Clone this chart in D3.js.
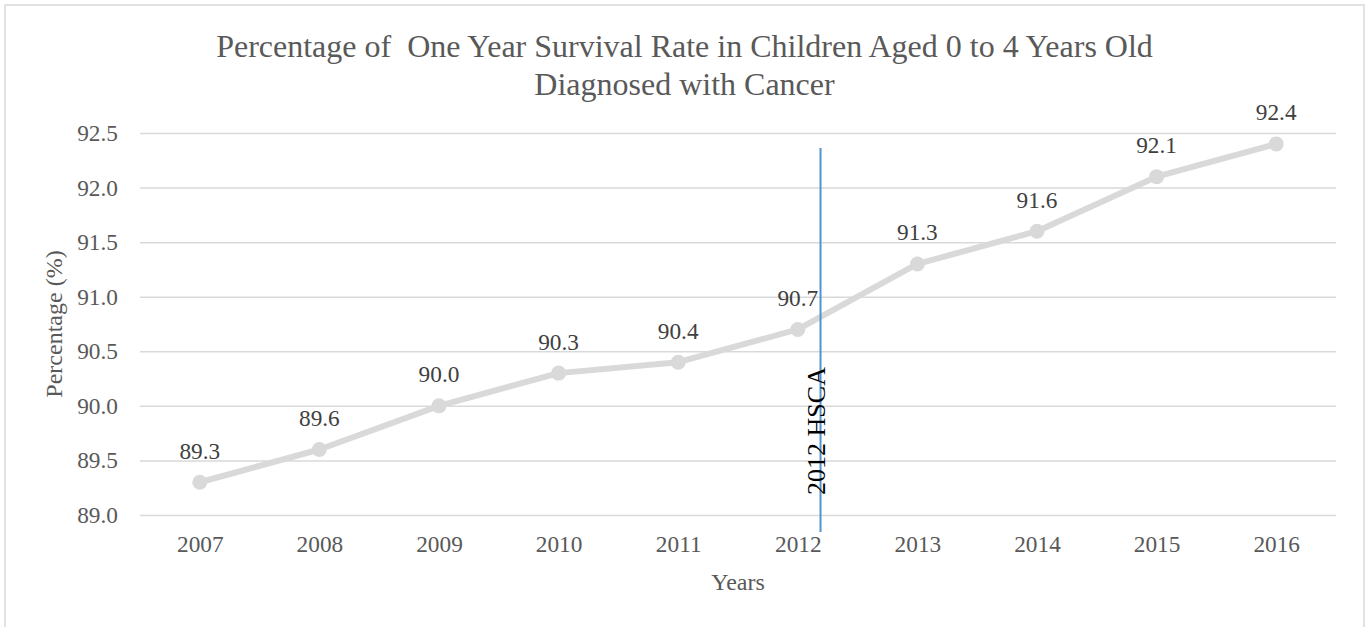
<!DOCTYPE html>
<html>
<head>
<meta charset="utf-8">
<script src="https://cdn.jsdelivr.net/npm/d3@7"></script>
<style>
  html, body { margin: 0; padding: 0; background: #ffffff; }
  svg { display: block; }
  text { font-family: "Liberation Serif", "Times New Roman", serif; }
  .title { white-space: pre; }
</style>
</head>
<body>
<svg id="chart" width="1369" height="627"></svg>
<script>
// Survival data, one value per diagnosis year
const years = [2007, 2008, 2009, 2010, 2011, 2012, 2013, 2014, 2015, 2016];
const rates = [89.3, 89.6, 90.0, 90.3, 90.4, 90.7, 91.3, 91.6, 92.1, 92.4];
const yTicks = [89.0, 89.5, 90.0, 90.5, 91.0, 91.5, 92.0, 92.5];
const titleLines = [
  "Percentage of  One Year Survival Rate in Children Aged 0 to 4 Years Old",
  "Diagnosed with Cancer"
];
// Policy marker placed just after the 2012 category
const markerYear = [2012.19];
const markerLabel = ["2012 HSCA"];

const W = 1369, H = 627;
const plot = { left: 140, right: 1336, top: 133, bottom: 515 };

const svg = d3.select("#chart");

// chart area frame
svg.append("rect")
  .attr("x", 5).attr("y", 5)
  .attr("width", 1359).attr("height", 640)
  .attr("fill", "#ffffff")
  .attr("stroke", "#d9d9d9")
  .attr("stroke-width", 1.5);

const x = d3.scaleLinear()
  .domain([years[0] - 0.5, years[years.length - 1] + 0.5])
  .range([plot.left, plot.right]);

const y = d3.scaleLinear()
  .domain([yTicks[0], yTicks[yTicks.length - 1]])
  .range([plot.bottom, plot.top]);

// title
svg.append("g").selectAll("text")
  .data(titleLines)
  .join("text")
  .attr("class", "title")
  .attr("x", 684.5)
  .attr("y", (d, i) => 56.5 + i * 38.5)
  .attr("text-anchor", "middle")
  .attr("fill", "#595959")
  .attr("font-size", "32px")
  .text(d => d);

// y axis with gridlines
const yAxis = svg.append("g")
  .attr("transform", `translate(${plot.left},0)`)
  .call(d3.axisLeft(y)
    .tickValues(yTicks)
    .tickFormat(d3.format(".1f"))
    .tickSize(-(plot.right - plot.left))
    .tickPadding(22));
yAxis.select(".domain").remove();
yAxis.selectAll(".tick line")
  .attr("stroke", "#d9d9d9")
  .attr("stroke-width", 1.5);
yAxis.selectAll(".tick text")
  .attr("fill", "#595959")
  .attr("font-size", "23.3px");

// x axis labels
const xAxis = svg.append("g")
  .attr("transform", `translate(0,${plot.bottom})`)
  .call(d3.axisBottom(x)
    .tickValues(years)
    .tickFormat(d3.format("d"))
    .tickSize(0)
    .tickPadding(20));
xAxis.select(".domain").remove();
xAxis.selectAll(".tick text")
  .attr("fill", "#595959")
  .attr("font-size", "23.3px");

// axis titles
svg.append("text")
  .attr("x", (plot.left + plot.right) / 2)
  .attr("y", 590)
  .attr("text-anchor", "middle")
  .attr("fill", "#595959")
  .attr("font-size", "24px")
  .text("Years");

svg.append("text")
  .attr("transform", `translate(62,${(plot.top + plot.bottom) / 2}) rotate(-90)`)
  .attr("text-anchor", "middle")
  .attr("fill", "#595959")
  .attr("font-size", "24px")
  .text("Percentage (%)");

// survival line and points
const pts = years.map((yr, i) => ({ yr, v: rates[i] }));

svg.append("path")
  .datum(pts)
  .attr("fill", "none")
  .attr("stroke", "#d9d9d9")
  .attr("stroke-width", 6)
  .attr("stroke-linejoin", "round")
  .attr("stroke-linecap", "round")
  .attr("d", d3.line().x(d => x(d.yr)).y(d => y(d.v)));

svg.append("g").selectAll("circle")
  .data(pts)
  .join("circle")
  .attr("cx", d => x(d.yr))
  .attr("cy", d => y(d.v))
  .attr("r", 7.5)
  .attr("fill", "#d9d9d9");

// value labels
svg.append("g").selectAll("text")
  .data(pts)
  .join("text")
  .attr("x", d => x(d.yr))
  .attr("y", d => y(d.v) - 23.5)
  .attr("text-anchor", "middle")
  .attr("fill", "#404040")
  .attr("font-size", "23.3px")
  .text(d => d.v.toFixed(1));

// policy marker line and label
const marker = svg.append("g");
marker.selectAll("line")
  .data(markerYear)
  .join("line")
  .attr("x1", d => x(d)).attr("x2", d => x(d))
  .attr("y1", 148).attr("y2", 532)
  .attr("stroke", "#4f94d0")
  .attr("stroke-width", 2);
marker.selectAll("text")
  .data(markerYear)
  .join("text")
  .attr("transform", d => `translate(${x(d) + 4.5},431) rotate(-90)`)
  .attr("text-anchor", "middle")
  .attr("fill", "#000000")
  .attr("font-size", "26px")
  .text((d, i) => markerLabel[i]);
</script>
</body>
</html>
